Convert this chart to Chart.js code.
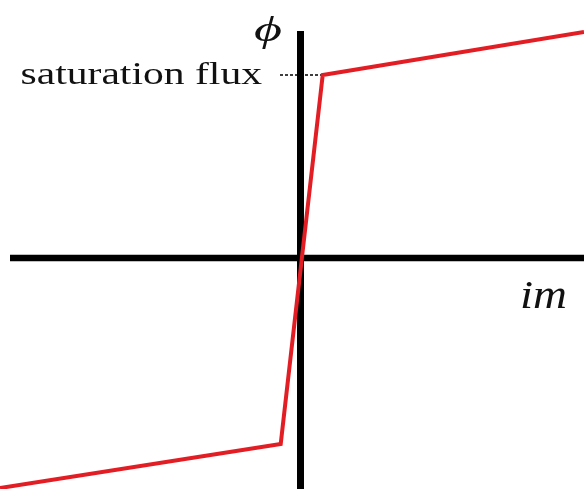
<!DOCTYPE html>
<html>
<head>
<meta charset="utf-8">
<script src="https://cdn.jsdelivr.net/npm/chart.js@4.4.0/dist/chart.umd.min.js"></script>
<style>
  html, body { margin: 0; padding: 0; background: #ffffff; }
  #wrap { width: 584px; height: 489px; }
</style>
</head>
<body>
<div id="wrap"><canvas id="c" width="584" height="489"></canvas></div>
<script>
// Magnetizing curve (piecewise linear)
const curveIm   = [-3.005, -0.198, 0.222, 2.835];
const curvePhi  = [-2.30, -1.86, 1.83, 2.26];
// Saturation flux guide (dashed)
const satIm     = [-0.205, 0.222];
const satPhi    = [1.83, 1.83];
// Axes lines
const hAxisIm   = [-2.905, 2.835];
const hAxisPhi  = [0, 0];
const vAxisIm   = [0, 0];
const vAxisPhi  = [2.27, -2.31];

const labels = { yAxis: 'ϕ', xAxis: 'im', sat: 'saturation flux' };

function pts(xs, ys) { return xs.map((x, i) => ({ x: x, y: ys[i] })); }

function stretchText(ctx, text, font, left, right, baseline) {
  ctx.save();
  ctx.font = font;
  const w = ctx.measureText(text).width;
  const sx = (right - left) / w;
  ctx.translate(left, baseline);
  ctx.scale(sx, 1);
  ctx.textBaseline = 'alphabetic';
  ctx.textAlign = 'left';
  ctx.fillStyle = '#111111';
  ctx.fillText(text, 0, 0);
  ctx.restore();
}

const textPlugin = {
  id: 'texts',
  afterDatasetsDraw(chart) {
    const ctx = chart.ctx;
    const ys = chart.scales.y;
    const satY = ys.getPixelForValue(satPhi[0]);
    stretchText(ctx, labels.sat, '31px "Liberation Serif", "Times New Roman", serif', 20.5, 262, satY + 9);
    stretchText(ctx, labels.yAxis, 'italic 36px "Liberation Serif", "DejaVu Serif", serif', 254, 282, 41);
    stretchText(ctx, labels.xAxis, 'italic 40px "Liberation Serif", "Times New Roman", serif', 520, 567, ys.getPixelForValue(0) + 49.5);
  }
};

new Chart(document.getElementById('c'), {
  type: 'scatter',
  data: {
    datasets: [
      {
        data: pts(curveIm, curvePhi),
        showLine: true,
        borderColor: 'rgb(226, 30, 36)',
        borderWidth: 4,
        pointRadius: 0,
        borderJoinStyle: 'miter',
        tension: 0,
        order: 0,
        clip: false
      },
      {
        data: pts(hAxisIm, hAxisPhi),
        showLine: true,
        borderColor: '#000000',
        borderWidth: 6.5,
        borderCapStyle: 'butt',
        pointRadius: 0,
        order: 1,
        clip: false
      },
      {
        data: pts(vAxisIm, vAxisPhi),
        showLine: true,
        borderColor: '#000000',
        borderWidth: 7,
        borderCapStyle: 'butt',
        pointRadius: 0,
        order: 1,
        clip: false
      },
      {
        data: pts(satIm, satPhi),
        showLine: true,
        borderColor: '#000000',
        borderWidth: 1.4,
        borderDash: [3, 2],
        pointRadius: 0,
        order: 2,
        clip: false
      }
    ]
  },
  options: {
    responsive: false,
    animation: false,
    layout: { padding: 0 },
    plugins: { legend: { display: false }, tooltip: { enabled: false } },
    scales: {
      x: { type: 'linear', display: false, min: -3.005, max: 2.835 },
      y: { type: 'linear', display: false, min: -2.31, max: 2.58 }
    }
  },
  plugins: [textPlugin]
});
</script>
</body>
</html>
